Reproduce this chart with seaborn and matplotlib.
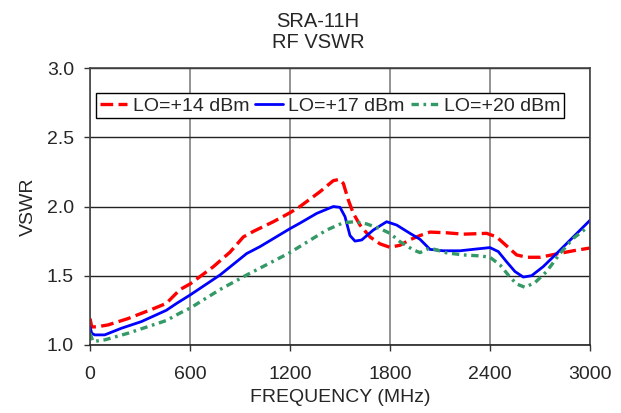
import matplotlib
matplotlib.use("Agg")
import matplotlib.pyplot as plt
import seaborn as sns
import pandas as pd

# ---- data ----
freq_14 = [0, 10, 40, 108, 228, 388, 458, 540, 600, 740, 840, 920, 980, 1100, 1200, 1260, 1380,
           1460, 1496, 1520, 1550, 1580, 1620, 1680, 1740, 1800, 1860, 1920, 1980, 2040, 2140,
           2240, 2380, 2440, 2500, 2560, 2620, 2700, 2800, 2900, 3000]
vswr_14 = [1.19, 1.13, 1.13, 1.144, 1.19, 1.265, 1.30, 1.40, 1.44, 1.565, 1.67, 1.78, 1.82, 1.89, 1.955, 2.00, 2.107,
           2.187, 2.196, 2.167, 2.047, 1.95, 1.866, 1.78, 1.73, 1.705, 1.72, 1.76, 1.79, 1.815, 1.81,
           1.80, 1.806, 1.78, 1.715, 1.65, 1.633, 1.633, 1.657, 1.68, 1.70]

freq_17 = [0, 10, 28, 88, 188, 308, 458, 520, 600, 780, 940, 1020, 1200, 1260, 1360, 1460, 1500,
           1530, 1560, 1590, 1630, 1700, 1780, 1840, 1920, 1980, 2040, 2120, 2220, 2320, 2400,
           2450, 2500, 2550, 2600, 2650, 2720, 2800, 2900, 3000]
vswr_17 = [1.13, 1.084, 1.072, 1.072, 1.12, 1.168, 1.25, 1.30, 1.36, 1.505, 1.66, 1.71, 1.84, 1.88, 1.95, 2.00, 1.994,
           1.927, 1.79, 1.75, 1.758, 1.83, 1.89, 1.866, 1.806, 1.763, 1.69, 1.68, 1.68, 1.693, 1.703,
           1.674, 1.60, 1.53, 1.49, 1.50, 1.566, 1.66, 1.78, 1.90]

freq_20 = [0, 18, 88, 228, 458, 540, 600, 780, 940, 1200, 1290, 1420, 1520, 1590, 1660, 1740, 1800,
           1860, 1940, 1980, 2040, 2140, 2240, 2340, 2400, 2460, 2520, 2560, 2610, 2670, 2740,
           2820, 2900, 2970, 3000]
vswr_20 = [1.084, 1.024, 1.036, 1.084, 1.176, 1.23, 1.265, 1.40, 1.505, 1.667, 1.734, 1.83, 1.883, 1.89, 1.874, 1.84, 1.806,
           1.746, 1.686, 1.667, 1.70, 1.665, 1.65, 1.643, 1.633, 1.578, 1.49, 1.44, 1.416, 1.45, 1.53,
           1.66, 1.77, 1.835, 1.84]

series_labels = ["LO=+14 dBm", "LO=+17 dBm", "LO=+20 dBm"]
x_ticks = [0, 600, 1200, 1800, 2400, 3000]
y_ticks = [1.0, 1.5, 2.0, 2.5, 3.0]
title_text = "SRA-11H\nRF VSWR"
x_label = "FREQUENCY (MHz)"
y_label = "VSWR"

sns.set_style("white")
plt.rcParams['font.family'] = ['Liberation Sans', 'DejaVu Sans']

fig = plt.figure(figsize=(6.21, 4.13), dpi=100)
ax = fig.add_axes([0.145, 0.165, 0.805, 0.67])

styles = [
    dict(color="#FF0000", linestyle=(0, (3.8, 1.6)), linewidth=2.4),
    dict(color="#0000FF", linestyle="-", linewidth=2.0),
    dict(color="#339966", linestyle=(0, (2.2, 1.4, 0.8, 1.4)), linewidth=2.4),
]
datasets = [(freq_14, vswr_14), (freq_17, vswr_17), (freq_20, vswr_20)]
for (fx, vy), lab, st in zip(datasets, series_labels, styles):
    df = pd.DataFrame({"f": fx, "v": vy})
    sns.lineplot(data=df, x="f", y="v", ax=ax, label=lab, sort=False, estimator=None, **st)

ax.set_xlim(0, 3000)
ax.set_ylim(1.0, 3.0)
ax.set_xticks(x_ticks)
ax.set_yticks(y_ticks)
ax.set_yticklabels([f"{t:.1f}" for t in y_ticks])
ax.tick_params(axis="both", labelsize=14, length=4.5, width=1, direction="out", color="#333333",
               bottom=True, left=True)
ax.tick_params(axis="x", pad=11)
ax.tick_params(axis="y", pad=7)
ax.xaxis.grid(True, color="#808080", linewidth=1.2)
ax.yaxis.grid(True, color="#222222", linewidth=1.0)
ax.set_axisbelow(True)
for s in ax.spines.values():
    s.set_color("#444444")
    s.set_linewidth(1.2)
ax.spines["bottom"].set_color("#222222")

ax.set_xlabel(x_label, fontsize=14, labelpad=4)
ax.set_ylabel(y_label, fontsize=14, labelpad=7)
fig.text(0.512, 0.972, title_text, ha="center", va="top", fontsize=14.5, linespacing=1.15)

leg = ax.legend(loc="upper left", bbox_to_anchor=(0.012, 0.91), ncol=3, fontsize=14,
                frameon=True, fancybox=False, edgecolor="black", framealpha=1,
                handlelength=1.4, handletextpad=0.3, columnspacing=0.3, borderpad=0.2,
                borderaxespad=0)
leg.get_frame().set_linewidth(1.0)

fig.savefig("out.png", dpi=100)
